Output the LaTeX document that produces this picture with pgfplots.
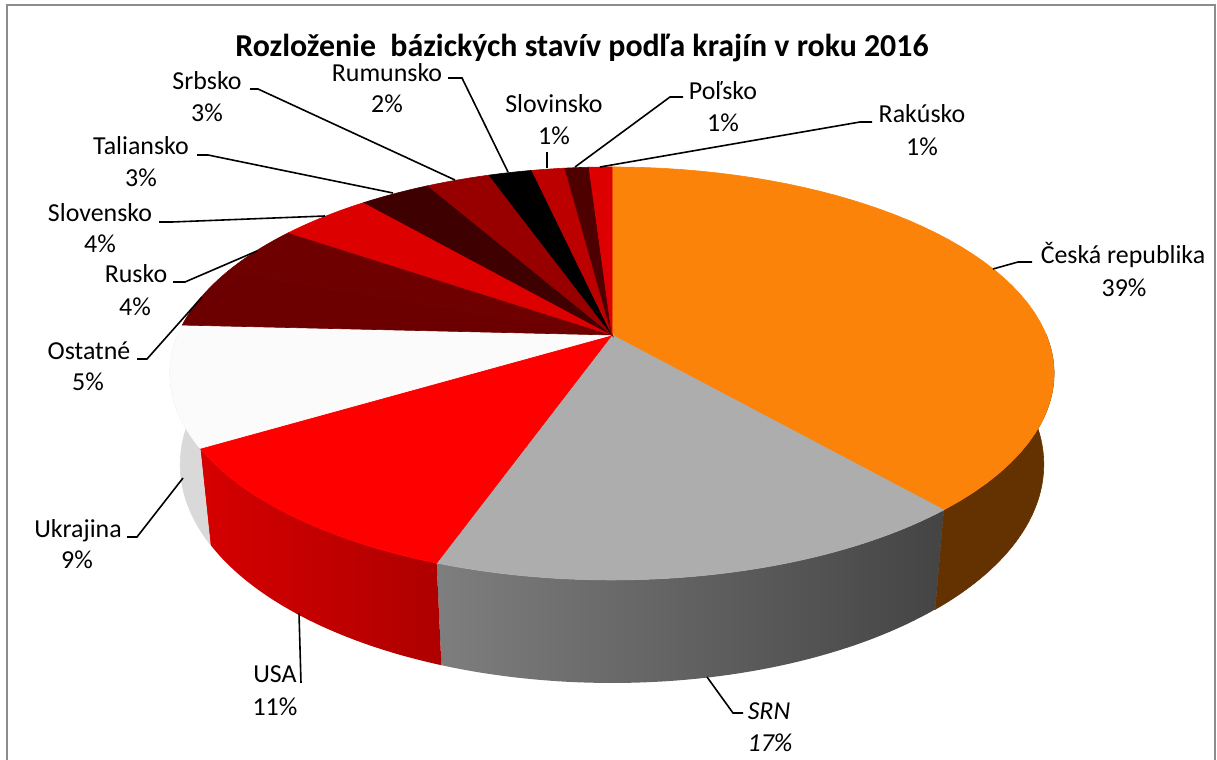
\documentclass[border=0pt]{standalone}
\usepackage{fontspec}
\setmainfont{Carlito}
\usepackage{pgfplots}
\usepackage{pgfplotstable}
\pgfplotsset{compat=1.18}
\pgfkeys{/pgf/declare function={
    PX(\pa,\pz,\pr)=612+434.3*\pr*sin(\pa)*4.766/(4.766+0.888*\pr*cos(\pa)-0.459*\pz);
    PY(\pa,\pz,\pr)=335-434.3*(0.459*\pr*cos(\pa)+0.888*\pz)*4.766/(4.766+0.888*\pr*cos(\pa)-0.459*\pz);
    TA(\ta,\tb,\tc)=\tb+(\tc-\tb)*min(\ta,50)/50;
    TW(\wa,\wb,\wc)=\wb+(\wc-\wb)*((\wa<75)*\wa+(\wa>75)*(150-\wa))/50;
  }
}
\tikzset{leader/.style={black, line width=0.8bp}}
% shares (percent), clockwise from 12 o'clock
\pgfplotstableread{
idx name val
0  CeskaRepublika 38.6
1  SRN            16.8
2  USA            11.0
3  Ukrajina        9.4
4  Ostatne         4.7
5  Rusko           4.1
6  Slovensko       4.1
7  Taliansko       3.1
8  Srbsko          2.8
9  Rumunsko        1.9
10 Slovinsko       1.45
11 Polsko          1.05
12 Rakusko         1.0
}\piedata
\gdef\cumval{0}
\foreach \i in {0,...,12}{%
  \pgfplotstablegetelem{\i}{val}\of\piedata
  \pgfmathsetmacro\tmpA{\cumval*3.6}%
  \pgfmathsetmacro\tmpC{\cumval+\pgfplotsretval}%
  \pgfmathsetmacro\tmpB{\tmpC*3.6}%
  \expandafter\xdef\csname angA\i\endcsname{\tmpA}%
  \expandafter\xdef\csname angB\i\endcsname{\tmpB}%
  \xdef\cumval{\tmpC}%
}
\definecolor{s0}{HTML}{FB8309}
\definecolor{s1}{HTML}{ADADAD}
\definecolor{s2}{HTML}{FF0000}
\definecolor{s3}{HTML}{FBFBFB}
\definecolor{s4}{HTML}{6C0000}
\definecolor{s5}{HTML}{6E0000}
\definecolor{s6}{HTML}{DC0000}
\definecolor{s7}{HTML}{3E0000}
\definecolor{s8}{HTML}{980000}
\definecolor{s9}{HTML}{000000}
\definecolor{s10}{HTML}{BC0000}
\definecolor{s11}{HTML}{4E0000}
\definecolor{s12}{HTML}{DC0000}
\definecolor{w0}{HTML}{643200}
\definecolor{w1l}{HTML}{7E7E7E}
\definecolor{w1r}{HTML}{444444}
\definecolor{w2l}{HTML}{D60000}
\definecolor{w2r}{HTML}{AE0000}
\definecolor{w3}{HTML}{D9D9D9}
\definecolor{frame}{HTML}{8C8C8C}
\newcommand\lbl{\fontsize{13}{16}\selectfont}
\begin{document}
\begin{tikzpicture}
\begin{axis}[
  width=608.5bp, height=380bp, scale only axis,
  xmin=0, xmax=1217, ymin=0, ymax=760, y dir=reverse,
  hide axis, clip=true,
]
% side walls (front, visible part)
\edef\curA{90}\edef\curB{\csname angB0\endcsname}
\addplot[fill=w0, draw=w0, line width=0.3bp, samples at={0,1,...,50,100,101,...,150}]
  ({PX(TW(\x,\curA,\curB),-0.238*(\x>75),1)},{PY(TW(\x,\curA,\curB),-0.238*(\x>75),1)}) -- cycle;
\edef\curA{\csname angA1\endcsname}\edef\curB{\csname angB1\endcsname}
\addplot[left color=w1l, right color=w1r, draw=none, samples at={0,1,...,50,100,101,...,150}]
  ({PX(TW(\x,\curA,\curB),-0.238*(\x>75),1)},{PY(TW(\x,\curA,\curB),-0.238*(\x>75),1)}) -- cycle;
\edef\curA{\csname angA2\endcsname}\edef\curB{\csname angB2\endcsname}
\addplot[left color=w2l, right color=w2r, draw=none, samples at={0,1,...,50,100,101,...,150}]
  ({PX(TW(\x,\curA,\curB),-0.238*(\x>75),1)},{PY(TW(\x,\curA,\curB),-0.238*(\x>75),1)}) -- cycle;
\edef\curA{\csname angA3\endcsname}\edef\curB{270}
\addplot[fill=w3, draw=w3, line width=0.3bp, samples at={0,1,...,50,100,101,...,150}]
  ({PX(TW(\x,\curA,\curB),-0.238*(\x>75),1)},{PY(TW(\x,\curA,\curB),-0.238*(\x>75),1)}) -- cycle;
% top faces
\pgfplotsinvokeforeach{0,...,12}{
  \edef\curA{\csname angA#1\endcsname}\edef\curB{\csname angB#1\endcsname}
  \addplot[fill=s#1, draw=s#1, line width=0.3bp, samples at={0,1,...,50,100}]
    ({PX(TA(\x,\curA,\curB),0,(\x<75))},{PY(TA(\x,\curA,\curB),0,(\x<75))}) -- cycle;
}
% frame
\draw[frame, line width=1.2bp] (7,900) -- (7,5) -- (1215,5) -- (1215,900);
% title
\node[anchor=base, font=\fontsize{16}{19}\selectfont\bfseries] at (582,56) {Rozloženie\ \ bázických stavív podľa krajín v roku 2016};
% leader lines
\draw[leader] (250,89) -- (258,89) -- (455,180);
\draw[leader] (448,78) -- (462,78) -- (508,172);
\draw[leader] (547,152) -- (547,168);
\draw[leader] (683,97) -- (670,97) -- (575,167);
\draw[leader] (872,122) -- (860,122) -- (600,167);
\draw[leader] (197,155) -- (208,155) -- (393,193);
\draw[leader] (159,222) -- (172,222) -- (325,216);
\draw[leader] (173,282) -- (185,282) -- (257,251);
\draw[leader] (137,359) -- (147,359) -- (202,297);
\draw[leader] (127,537) -- (137,537) -- (183,478);
\draw[leader] (301,683) -- (299,613);
\draw[leader] (743,713) -- (733,713) -- (707,677);
\draw[leader] (1032,262) -- (1018,262) -- (993,269);
% labels
\node[anchor=base, font=\lbl] at (207,90) {Srbsko};
\node[anchor=base, font=\lbl] at (207,122) {3\%};
\node[anchor=base, font=\lbl] at (387,82) {Rumunsko};
\node[anchor=base, font=\lbl] at (387,113) {2\%};
\node[anchor=base, font=\lbl] at (554,113) {Slovinsko};
\node[anchor=base, font=\lbl] at (554,145) {1\%};
\node[anchor=base, font=\lbl] at (723,100) {Poľsko};
\node[anchor=base, font=\lbl] at (723,132) {1\%};
\node[anchor=base, font=\lbl] at (922,123) {Rakúsko};
\node[anchor=base, font=\lbl] at (922,156) {1\%};
\node[anchor=base, font=\lbl] at (141,155) {Taliansko};
\node[anchor=base, font=\lbl] at (141,187) {3\%};
\node[anchor=base, font=\lbl] at (100,222) {Slovensko};
\node[anchor=base, font=\lbl] at (100,253) {4\%};
\node[anchor=base, font=\lbl] at (136,283) {Rusko};
\node[anchor=base, font=\lbl] at (135,316) {4\%};
\node[anchor=base, font=\lbl] at (89,360) {Ostatné};
\node[anchor=base, font=\lbl] at (88,391) {5\%};
\node[anchor=base, font=\lbl] at (78,538) {Ukrajina};
\node[anchor=base, font=\lbl] at (77,569) {9\%};
\node[anchor=base, font=\lbl] at (275,683) {USA};
\node[anchor=base, font=\lbl] at (275,716) {11\%};
\node[anchor=base, font=\lbl\itshape] at (769,720) {SRN};
\node[anchor=base, font=\lbl\itshape] at (770,752) {17\%};
\node[anchor=base, font=\lbl] at (1123,264) {Česká republika};
\node[anchor=base, font=\lbl] at (1124,297) {39\%};
\end{axis}
\pgfresetboundingbox
\path (current axis.south west) rectangle (current axis.north east);
\end{tikzpicture}
\end{document}
